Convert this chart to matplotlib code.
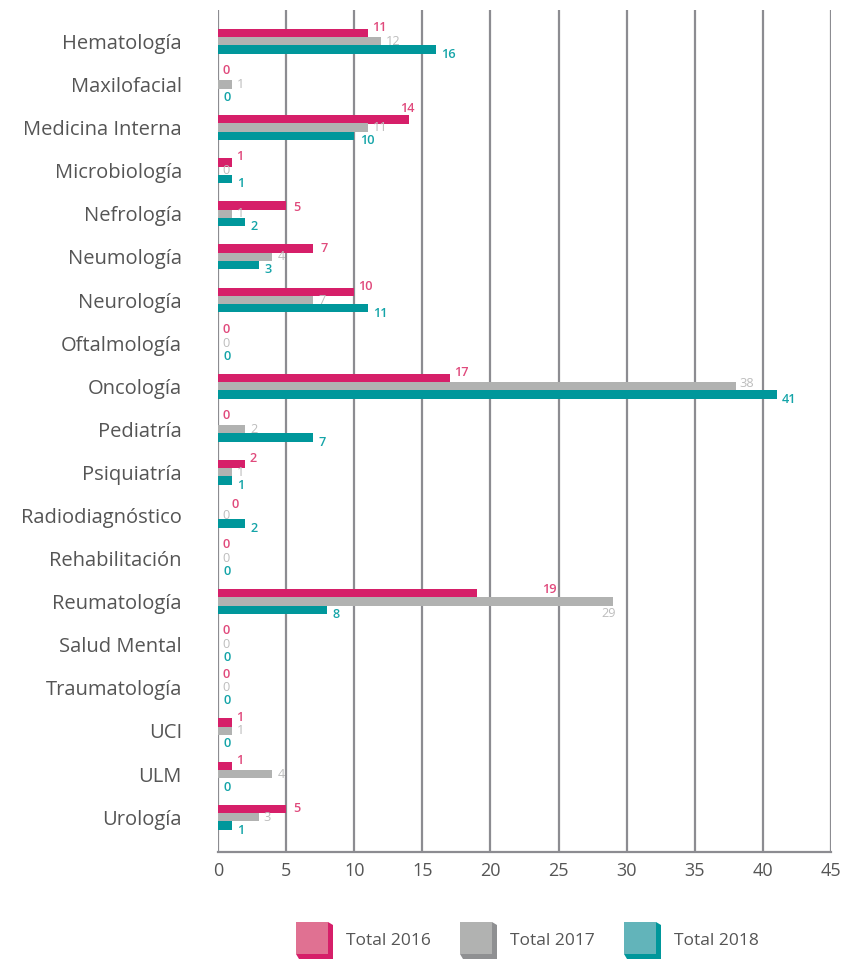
import matplotlib

matplotlib.use("Agg")
import matplotlib.pyplot as plt
import numpy as np
from matplotlib.patches import Polygon

W, H = 845, 960

categories = ["Hematología", "Maxilofacial", "Medicina Interna", "Microbiología", "Nefrología",
              "Neumología", "Neurología", "Oftalmología", "Oncología", "Pediatría", "Psiquiatría",
              "Radiodiagnóstico", "Rehabilitación", "Reumatología", "Salud Mental", "Traumatología",
              "UCI", "ULM", "Urología"]
total_2016 = [11, 0, 14, 1, 5, 7, 10, 0, 17, 0, 2, 0, 0, 19, 0, 0, 1, 1, 5]
total_2017 = [12, 1, 11, 0, 1, 4, 7, 0, 38, 2, 1, 0, 0, 29, 0, 0, 1, 4, 3]
total_2018 = [16, 0, 10, 1, 2, 3, 11, 0, 41, 7, 1, 2, 0, 8, 0, 0, 0, 0, 1]
series_names = ["Total 2016", "Total 2017", "Total 2018"]

BAR = ["#d61f69", "#b1b2b1", "#00979b"]
TXT = ["#e04a7c", "#bdbdbd", "#14a4a8"]
LEG_FRONT = ["#e07192", "#b1b2b1", "#62b4ba"]
LEG_SIDE = ["#d61f69", "#8f9092", "#00979b"]
GRIDC = "#8c8c91"
LABC = "#555555"
FONT = "Open Sans"

plt.rcParams.update({"font.family": FONT})

fig = plt.figure(figsize=(W / 100, H / 100), dpi=100)
ax = fig.add_axes([218 / W, 1 - 852 / H, (831 - 218) / W, (852 - 10) / H])

y = np.arange(len(categories))
offs = [-0.19, 0.0, 0.19]
data = [total_2016, total_2017, total_2018]
for k, vals in enumerate(data):
    ax.barh(y + offs[k], vals, height=0.2, color=BAR[k], zorder=3)

# value label offsets in points (dx, dy, ha); overrides for crowded spots
default_off = [(3, 4, "left"), (3.5, 0, "left"), (4, -3.5, "left")]
override = {(0, 13): (47, 3, "left"), (1, 13): (-3, -8.5, "center"), (0, 11): (10, 2, "left"),
            (0, 4): (5, -1, "left"), (0, 5): (5, 0, "left"), (0, 18): (5, 0, "left"),
            (1, 8): (3, 2, "left"), (0, 2): (-1, 8, "center")}
weights = ["semibold", "normal", "semibold"]
for k, vals in enumerate(data):
    for i, v in enumerate(vals):
        dx, dy, ha = override.get((k, i), default_off[k])
        ax.annotate(str(v), (v, y[i] + offs[k]), textcoords="offset points", xytext=(dx, dy),
                    ha=ha, va="center", fontsize=9.2, color=TXT[k], fontweight=weights[k], zorder=4)

ax.set_xlim(0, 45)
ax.set_ylim(18.81, -0.73)
ax.set_xticks(np.arange(0, 46, 5))
ax.set_yticks(y)
ax.set_yticklabels(categories, fontsize=14.5, color=LABC)
ax.tick_params(axis="y", length=0, pad=26)
ax.tick_params(axis="x", length=0, pad=7, labelsize=13, labelcolor=LABC)
ax.grid(axis="x", color=GRIDC, linewidth=1.6, zorder=0)
ax.set_axisbelow(True)
for s in ("top", "right", "left"):
    ax.spines[s].set_visible(False)
ax.spines["bottom"].set_color(GRIDC)
ax.spines["bottom"].set_linewidth(1.6)


def px(xp, yp):
    return (xp / W, 1 - yp / H)


# legend: small 3D cubes
for k, name in enumerate(series_names):
    x0 = 296 + 164 * k
    y0 = 922
    s, d = 32, 5
    side = Polygon([px(x0 + s, y0), px(x0 + s + d, y0 + 3), px(x0 + s + d, y0 + s + d),
                    px(x0 + 3, y0 + s + d), px(x0, y0 + s), px(x0 + s, y0 + s)],
                   closed=True, transform=fig.transFigure, facecolor=LEG_SIDE[k], edgecolor="none")
    front = Polygon([px(x0, y0), px(x0 + s, y0), px(x0 + s, y0 + s), px(x0, y0 + s)],
                    closed=True, transform=fig.transFigure, facecolor=LEG_FRONT[k], edgecolor="none")
    fig.patches.extend([side, front])
    fig.text(*px(x0 + 50, y0 + 19), name, fontsize=12.5, color=LABC,
             ha="left", va="center")

fig.savefig("out.png", dpi=100)
